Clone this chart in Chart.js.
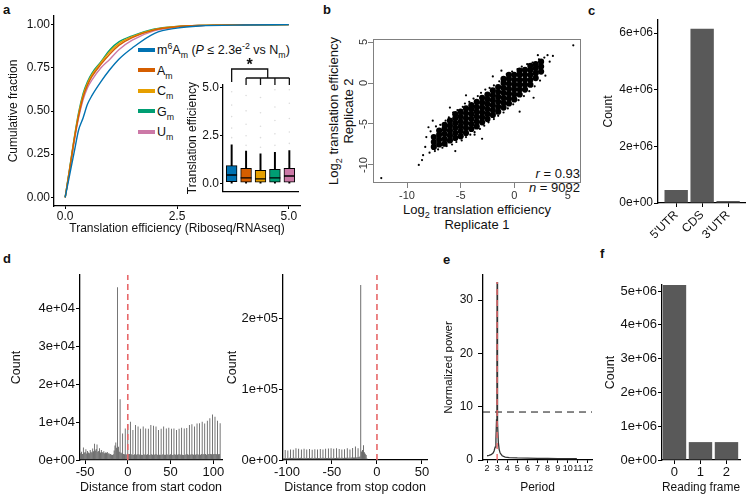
<!DOCTYPE html>
<html>
<head>
<meta charset="utf-8">
<script src="https://cdn.jsdelivr.net/npm/chart.js@4.4.1/dist/chart.umd.min.js"></script>
<style>
  body { margin: 0; background: #fff; }
  #fig { position: relative; width: 750px; height: 498px; overflow: hidden;
         font-family: "Liberation Sans", Arial, sans-serif; color: #111; }
  #fig canvas { position: absolute; }
  .lab { position: absolute; font-weight: bold; font-size: 13px; line-height: 1; }
  .lg { position: absolute; left: 138px; font-size: 12.5px; line-height: 14px; white-space: nowrap; }
  .lg .sw { display: inline-block; width: 17px; height: 4px; vertical-align: middle; margin-right: 2px; position: relative; top: -1px; }
  .t { position: absolute; font-size: 13px; white-space: nowrap; text-align: center; line-height: 15px; }
  sub, sup { font-size: 70%; line-height: 0; }
</style>
</head>
<body>
<div id="fig">
  <div class="lab" style="left:3px;top:3px">a</div>
  <div class="lab" style="left:323px;top:3px">b</div>
  <div class="lab" style="left:588px;top:4px">c</div>
  <div class="lab" style="left:3px;top:252px">d</div>
  <div class="lab" style="left:443px;top:253px">e</div>
  <div class="lab" style="left:600px;top:247px">f</div>

  <div class="lg" style="top:43px"><span class="sw" style="background:#0072B2"></span>m<sup>6</sup>A<sub>m</sub> (<i>P</i> ≤ 2.3e<sup>-2</sup> vs N<sub>m</sub>)</div>
  <div class="lg" style="top:63.5px"><span class="sw" style="background:#D55E00"></span>A<sub>m</sub></div>
  <div class="lg" style="top:84px"><span class="sw" style="background:#E69F00"></span>C<sub>m</sub></div>
  <div class="lg" style="top:104.5px"><span class="sw" style="background:#009E73"></span>G<sub>m</sub></div>
  <div class="lg" style="top:125px"><span class="sw" style="background:#CC79A7"></span>U<sub>m</sub></div>

  <div class="t" style="left:377px;top:202px;width:200px">Log<sub>2</sub> translation efficiency<br>Replicate 1</div>
  <div class="t" style="left:251px;top:96px;width:180px;transform:rotate(-90deg)">Log<sub>2</sub> translation efficiency<br>Replicate 2</div>

  <div class="t" style="left:490px;top:167px;width:90px;font-size:13px;text-align:right;line-height:14px"><i>r</i> = 0.93<br><i>n</i> = 9092</div>
</div>

<script>
// panel a: cumulative fraction of translation efficiency
const teGrid  = [0, 0.1, 0.2, 0.3, 0.4, 0.5, 0.6, 0.8, 1.0, 1.2, 1.5, 2.0, 2.5, 3.0, 4.0, 5.0];
const cdfM6Am = [0, 0.13, 0.26, 0.39, 0.46, 0.54, 0.59, 0.67, 0.74, 0.80, 0.865, 0.95, 0.98, 0.992, 0.998, 1];
const cdfAm   = [0, 0.16, 0.33, 0.47, 0.58, 0.65, 0.70, 0.77, 0.83, 0.88, 0.925, 0.97, 0.988, 0.995, 0.999, 1];
const cdfCm   = [0, 0.165, 0.335, 0.48, 0.59, 0.66, 0.71, 0.78, 0.845, 0.89, 0.93, 0.972, 0.989, 0.996, 0.999, 1];
const cdfGm   = [0, 0.17, 0.34, 0.49, 0.60, 0.67, 0.72, 0.785, 0.855, 0.90, 0.935, 0.975, 0.99, 0.996, 0.999, 1];
const cdfUm   = [0, 0.155, 0.32, 0.46, 0.565, 0.635, 0.68, 0.75, 0.80, 0.855, 0.91, 0.965, 0.986, 0.995, 0.999, 1];
const nucColors = ['#0072B2', '#D55E00', '#E69F00', '#009E73', '#CC79A7'];

// panel a inset: boxplots
const boxLow  = [0, 0, 0, 0, 0];
const boxQ1   = [0.1, 0.08, 0.08, 0.08, 0.08];
const boxMed  = [0.45, 0.3, 0.25, 0.3, 0.4];
const boxQ3   = [0.94, 0.8, 0.7, 0.75, 0.8];
const boxHigh = [2.03, 1.7, 1.55, 1.63, 1.73];
const boxOutliers = [[2.4, 2.9, 3.5, 4.1, 4.8], [2.0, 2.5, 3.1, 3.8, 4.6], [1.9, 2.4, 3.0, 3.7, 4.5],
                     [2.0, 2.6, 3.3, 4.0, 4.9], [2.1, 2.7, 3.4, 4.2, 4.9]];

// panel b: replicate scatter (dense core columns + scattered points)
const bCoreCols = [
  [-7.5, [-7.8, -7.2, -6.6]],
  [-7.0, [-7.5, -6.9, -6.3, -5.8]],
  [-6.5, [-7.4, -6.8, -6.2, -5.6, -5.1]],
  [-6.0, [-7.0, -6.4, -5.8, -5.2, -4.6]],
  [-5.5, [-6.7, -6.1, -5.5, -4.9, -4.3, -3.8]],
  [-5.0, [-6.5, -5.9, -5.3, -4.7, -4.1, -3.5]],
  [-4.5, [-6.1, -5.5, -4.9, -4.3, -3.7, -3.1]],
  [-4.0, [-5.6, -5.0, -4.4, -3.8, -3.2, -2.7]],
  [-3.5, [-5.3, -4.7, -4.1, -3.5, -2.9, -2.3]],
  [-3.0, [-4.8, -4.2, -3.6, -3.0, -2.4, -1.8]],
  [-2.5, [-4.4, -3.8, -3.2, -2.6, -2.0, -1.4]],
  [-2.0, [-3.9, -3.3, -2.7, -2.1, -1.5, -0.9]],
  [-1.5, [-3.5, -2.9, -2.3, -1.7, -1.1, -0.5]],
  [-1.0, [-3.0, -2.4, -1.8, -1.2, -0.6, 0.0, 0.5]],
  [-0.5, [-2.5, -1.9, -1.3, -0.7, -0.1, 0.5, 1.0]],
  [0.0,  [-2.0, -1.4, -0.8, -0.2, 0.4, 1.0]],
  [0.5,  [-1.4, -0.8, -0.2, 0.4, 1.0, 1.5]],
  [1.0,  [-0.8, -0.2, 0.4, 1.0, 1.6]],
  [1.5,  [-0.2, 0.4, 1.0, 1.6, 2.1]],
  [2.0,  [0.6, 1.2, 1.8, 2.3]],
  [2.5,  [1.4, 2.0, 2.6]]
];
const bSparse = [
  [-7.8, -5.9], [-7.3, -5.3], [-6.9, -5.1], [-6.4, -4.6], [-6.1, -4.2], [-5.7, -3.6], [-5.3, -3.3], [-4.8, -2.9],
  [-4.6, -2.5], [-4.2, -2.3], [-3.8, -1.9], [-3.4, -1.6], [-3.1, -1.2], [-2.7, -0.8], [-2.3, -0.6], [-1.9, -0.3],
  [-1.4, 0.2], [-1.1, 0.6], [-0.7, 1.1], [-0.2, 1.4], [0.3, 1.7], [0.7, 2.0], [1.2, 2.3], [1.7, 2.5],
  [2.3, 2.9], [2.8, 3.1], [3.1, 3.4],
  [-7.9, -8.5], [-7.4, -8.3], [-7.1, -8.1], [-6.7, -7.9], [-6.3, -7.7], [-5.8, -7.5], [-5.4, -7.2], [-4.9, -7.0],
  [-4.5, -6.6], [-4.1, -6.3], [-3.7, -6.0], [-3.2, -5.6], [-2.8, -5.2], [-2.4, -4.8], [-1.9, -4.4], [-1.5, -4.0],
  [-1.0, -3.6], [-0.6, -3.1], [-0.1, -2.6], [0.4, -2.1], [0.9, -1.6], [1.4, -1.0], [1.9, -0.4], [2.4, 0.3], [2.9, 0.9],
  [-12.4, -11.6], [-8.9, -10.0], [-8.6, -9.4], [-8.3, -7.8], [-8.0, -5.4], [-8.5, -8.8], [-8.2, -6.6], [-3.7, -6.3],
  [-6.0, -3.0], [-4.5, -1.5], [-2.0, 0.8], [0.5, -3.5], [1.8, -1.8], [-5.5, -8.3], [3.3, 2.6], [3.6, 3.3],
  [5.5, 4.6], [-1.2, 1.5], [2.2, 3.4], [-7.6, -4.6], [-3.0, -6.8]
];
const bTicks = [-10, -5, 0, 5];

// panel c: reads per region
const regionNames = ["5'UTR", 'CDS', "3'UTR"];
const regionCounts = [460000, 6150000, 70000];

// panel d: reads around start and stop codons (one value per nucleotide)
const startFirst = -55;
const startCounts = [
  1800, 2200, 1600, 3300, 1900, 2100, 2800, 1700, 2400, 2000,
  1800, 2600, 2200, 2000, 3000, 2300, 4300, 2500, 2900, 4100,
  2200, 2400, 3100, 2000, 2600, 2100, 1900, 2300, 1800, 2000,
  1900, 2100, 1700, 1800, 1500, 1600, 1400, 1300, 1500, 2500,
  3800, 4600, 3200, 45500, 3500, 2200, 16000, 2000, 1800, 7000, 1600, 1500, 8300, 1500, 1400,
  9400, 1500, 1600, 10100, 1500, 1400, 7900, 1300, 1500, 9200, 1400, 1500,
  8800, 1500, 1400, 8200, 1400, 1300, 8800, 1500, 1400, 8300, 1400, 1500,
  8200, 1300, 1400, 9200, 1500, 1400, 9000, 1400, 1500, 8800, 1500, 1300,
  7900, 1400, 1400, 8200, 1300, 1500, 8800, 1400, 1400, 8300, 1500, 1300,
  8500, 1400, 1500, 8200, 1300, 1400, 8300, 1500, 1400, 7900, 1400, 1500,
  8200, 1500, 1400, 8500, 1400, 1300, 8300, 1300, 1500, 8400, 1500, 1400,
  9200, 1400, 1500, 9400, 1500, 1400, 8800, 1400, 1500, 9600, 1500, 1400,
  9700, 1400, 1600, 10100, 1500, 1500, 9600, 1600, 1400, 10300, 1500, 1600,
  11000, 1600, 1500, 12000, 1500, 1600, 11400, 1600, 1500, 10300, 1500, 1600,
  9700
];
const stopFirst = -104;
const stopCounts = [
  2600, 3000,
  14000, 3000, 2800, 13500, 2700, 3100, 15000, 3000, 2900, 14500, 3100, 2800,
  16500, 2900, 3000, 15800, 3000, 3100, 15000, 2800, 3000, 16000, 3100, 2900,
  14800, 3000, 3000, 15500, 2900, 3100, 14500, 3000, 2800, 15200, 3100, 3000,
  14800, 2900, 3000, 15500, 3000, 3100, 14900, 3100, 2900, 15800, 3000, 3000,
  16200, 2900, 3100, 16500, 3100, 3000, 16000, 3000, 2900, 16800, 3100, 3200,
  15500, 3000, 3100, 14800, 3200, 3000, 15200, 3100, 3300, 16500, 3200, 3100,
  15000, 3300, 3400, 17000, 3400, 3500, 19000, 3600, 3800, 16500, 4200, 5000,
  248000, 12000, 14000, 21000, 11000, 9000,
  7000, 2000
];

// panel e: periodicity spectrum
const ePeriod = [2.0, 2.2, 2.4, 2.6, 2.7, 2.8, 2.88, 2.94, 2.98, 3.0, 3.02, 3.06, 3.12, 3.2, 3.3, 3.5, 3.8, 4.2, 5, 6, 7, 8, 9, 10, 10.9];
const ePower  = [0.8, 0.85, 1.0, 1.3, 1.7, 2.4, 3.8, 7.5, 20, 33.4, 21, 7, 3.3, 2.0, 1.3, 0.8, 0.55, 0.45, 0.38, 0.34, 0.3, 0.28, 0.26, 0.25, 0.24];
const ePeak = 3;
const eThreshold = 9;

// panel f: reads per reading frame
const frameNames = ['0', '1', '2'];
const frameCounts = [5180000, 530000, 530000];

Chart.defaults.font.family = '"Liberation Sans", Arial, sans-serif';
Chart.defaults.color = '#111';
Chart.defaults.animation = false;
Chart.defaults.events = [];
Chart.defaults.plugins.legend.display = false;
Chart.defaults.plugins.tooltip.enabled = false;

const fig = document.getElementById('fig');
const sci = v => v === 0 ? '0e+00' : v.toExponential(0).replace(/e([+-])(\d)$/, 'e$10$2');

// canvas box and plot area in page pixels
function panel(box, area, cfg) {
  const cv = document.createElement('canvas');
  cv.width = box.r - box.l;
  cv.height = box.b - box.t;
  cv.style.left = box.l + 'px';
  cv.style.top = box.t + 'px';
  fig.appendChild(cv);
  const o = cfg.options;
  o.responsive = false;
  o.layout = { padding: { left: 0, bottom: 0, top: area.t - box.t, right: box.r - area.r } };
  const xH = box.b - area.b, yW = area.l - box.l;
  o.scales.x.afterFit = s => { s.height = xH; s.paddingLeft = 0; s.paddingRight = 0; };
  o.scales.y.afterFit = s => { s.width = yW; s.paddingTop = 0; s.paddingBottom = 0; };
  return new Chart(cv, cfg);
}

function axis(min, max, ticks, fmt, opt = {}) {
  const lc = opt.lineColor || '#000';
  return {
    type: 'linear', min, max, offset: false,
    border: { display: opt.border !== false, color: lc, width: opt.bw || 1.3 },
    grid: { display: !opt.noTicks, drawOnChartArea: false, drawTicks: true, tickLength: opt.tl ?? 4,
            color: lc, lineWidth: 1, offset: false },
    ticks: { display: !opt.noLabels, autoSkip: false, font: { size: opt.fs || 12 }, color: opt.tc || '#111',
             padding: opt.pad ?? 1, maxRotation: opt.rot || 0, minRotation: opt.rot || 0, callback: fmt },
    afterBuildTicks: s => { s.ticks = ticks.map(v => ({ value: v })); },
    title: opt.title ? { display: true, text: opt.title, font: { size: opt.tfs || 12 }, color: '#111', padding: 0 }
                     : { display: false }
  };
}

// a
const cdfSeries = [cdfM6Am, cdfAm, cdfCm, cdfGm, cdfUm];
panel({ l: 6, t: 0, r: 305, b: 236 }, { l: 54, t: 16, r: 300, b: 206 }, {
  type: 'line',
  data: {
    datasets: cdfSeries.map((s, k) => ({
      data: teGrid.map((x, i) => ({ x, y: s[i] })),
      borderColor: nucColors[k], borderWidth: 1.4, pointRadius: 0,
      cubicInterpolationMode: 'monotone', order: k
    }))
  },
  options: {
    scales: {
      x: axis(-0.25, 5.25, [0, 2.5, 5], v => v.toFixed(1), { title: 'Translation efficiency (Riboseq/RNAseq)', tl: 3, pad: 0 }),
      y: axis(-0.05, 1.05, [0, 0.25, 0.5, 0.75, 1], v => v.toFixed(2), { title: 'Cumulative fraction', tl: 3, pad: 1 })
    }
  }
});

// a inset
const bracket = {
  id: 'bracket',
  afterDraw(ch) {
    const { ctx, chartArea: ca, scales: { x } } = ch;
    const px = v => x.getPixelForValue(v);
    const yTop = ca.top - 16, yMid = ca.top - 7;
    ctx.save();
    ctx.strokeStyle = '#111';
    ctx.lineWidth = 1.3;
    ctx.beginPath();
    ctx.moveTo(px(1), ca.top - 3); ctx.lineTo(px(1), yTop); ctx.lineTo(px(3.5), yTop); ctx.lineTo(px(3.5), yMid);
    ctx.moveTo(px(2), yMid); ctx.lineTo(px(5), yMid);
    [2, 3, 4, 5].forEach(k => { ctx.moveTo(px(k), yMid); ctx.lineTo(px(k), ca.top); });
    ctx.stroke();
    ctx.font = 'bold 16px "Liberation Sans"';
    ctx.textAlign = 'center';
    ctx.textBaseline = 'middle';
    ctx.fillStyle = '#111';
    ctx.fillText('*', px(2.25), yTop - 3);
    ctx.restore();
  }
};
panel({ l: 185, t: 50, r: 305, b: 198 }, { l: 223, t: 85, r: 298, b: 195 }, {
  type: 'bar',
  data: {
    datasets: [
      { type: 'line', showLine: false, data: boxMed.map((v, i) => ({ x: i + 1, y: v })),
        pointStyle: 'line', pointRadius: 5.4, borderColor: '#000', pointBorderWidth: 1.3, order: 0 },
      { data: boxQ1.map((v, i) => ({ x: i + 1, y: [v, boxQ3[i]] })), backgroundColor: nucColors,
        borderColor: '#000', borderWidth: 1, borderSkipped: false, barThickness: 10.8, grouped: false, order: 1 },
      { data: boxLow.map((v, i) => ({ x: i + 1, y: [v, boxHigh[i]] })), backgroundColor: '#000',
        barThickness: 1.3, grouped: false, order: 2 },
      { type: 'line', showLine: false, data: boxOutliers.flatMap((arr, i) => arr.map(v => ({ x: i + 1, y: v }))),
        pointRadius: 0.8, pointBackgroundColor: '#dcdcdc', pointBorderWidth: 0, order: 3 }
    ]
  },
  options: {
    scales: {
      x: axis(0.4, 5.6, [], null, { noTicks: true, noLabels: true }),
      y: axis(-0.4, 5.15, [0, 2.5, 5], v => v.toFixed(1), { title: 'Translation efficiency', tl: 3, pad: 1 })
    }
  },
  plugins: [bracket]
});

// b
const bFrame = {
  id: 'bFrame',
  afterDraw(ch) {
    const { ctx, chartArea: ca, scales: { y } } = ch;
    ctx.save();
    ctx.strokeStyle = '#808080';
    ctx.lineWidth = 1;
    ctx.strokeRect(ca.left + 0.5, ca.top + 0.5, ca.right - ca.left - 1, ca.bottom - ca.top - 1);
    ctx.fillStyle = '#333';
    ctx.font = '11px "Liberation Sans"';
    ctx.textAlign = 'center';
    ctx.textBaseline = 'middle';
    bTicks.forEach(v => {
      ctx.save();
      ctx.translate(ca.left - 9, y.getPixelForValue(v));
      ctx.rotate(-Math.PI / 2);
      ctx.fillText(String(v), 0, 0);
      ctx.restore();
    });
    ctx.restore();
  }
};
const bCore = bCoreCols.flatMap(([x, ys]) => ys.map(y => ({ x, y })));
panel({ l: 345, t: 25, r: 600, b: 205 }, { l: 373, t: 39, r: 581, b: 183 }, {
  type: 'scatter',
  data: {
    datasets: [
      { data: bCore, pointRadius: 3.1, pointBackgroundColor: '#000', pointBorderWidth: 0 },
      { data: bSparse.map(p => ({ x: p[0], y: p[1] })), pointRadius: 1.1, pointBackgroundColor: '#000', pointBorderWidth: 0 }
    ]
  },
  options: {
    scales: {
      x: axis(-13.17, 6.22, bTicks, v => String(v), { border: false, lineColor: '#808080', tl: 5, pad: 1, fs: 11, tc: '#333' }),
      y: axis(-12.2, 5.37, bTicks, () => '', { border: false, lineColor: '#808080', tl: 5, pad: 1, fs: 11 })
    }
  },
  plugins: [bFrame]
});

// c
panel({ l: 601, t: 5, r: 750, b: 250 }, { l: 658, t: 20, r: 745, b: 203 }, {
  type: 'bar',
  data: {
    datasets: [{ data: regionCounts.map((v, i) => ({ x: i + 1, y: v })), backgroundColor: '#595959',
                 barPercentage: 0.9, categoryPercentage: 1 }]
  },
  options: {
    scales: {
      x: axis(0.3, 3.65, [1, 2, 3], (v, i) => regionNames[i], { rot: 45, tl: 4, pad: 1 }),
      y: axis(0, 6.46e6, [0, 2e6, 4e6, 6e6], sci, { title: 'Count', tl: 4, pad: 1 })
    }
  }
});

// d start
panel({ l: 9, t: 265, r: 235, b: 495 }, { l: 80, t: 275, r: 222, b: 460 }, {
  type: 'bar',
  data: {
    datasets: [
      { type: 'line', data: [{ x: 0, y: 0 }, { x: 0, y: 4.87e4 }], borderColor: '#e8686a', borderWidth: 1.6,
        borderDash: [6, 4], pointRadius: 0, order: 0 },
      { data: startCounts.map((v, i) => ({ x: startFirst + i, y: v })), backgroundColor: '#4d4d4d',
        barPercentage: 0.9, categoryPercentage: 1, order: 1 }
    ]
  },
  options: {
    scales: {
      x: axis(-55.9, 110.2, [-50, 0, 50, 100], v => String(v), { title: 'Distance from start codon', fs: 13, tfs: 12.5, tl: 4, pad: 1 }),
      y: axis(0, 4.87e4, [0, 1e4, 2e4, 3e4, 4e4], sci, { title: 'Count', fs: 13, tfs: 12.5, tl: 4, pad: 1 })
    }
  }
});

// d stop
panel({ l: 225, t: 265, r: 440, b: 495 }, { l: 283, t: 275, r: 427, b: 460 }, {
  type: 'bar',
  data: {
    datasets: [
      { type: 'line', data: [{ x: 0, y: 0 }, { x: 0, y: 2.62e5 }], borderColor: '#e8686a', borderWidth: 1.6,
        borderDash: [6, 4], pointRadius: 0, order: 0 },
      { data: stopCounts.map((v, i) => ({ x: stopFirst + i, y: v })), backgroundColor: '#4d4d4d',
        barPercentage: 0.9, categoryPercentage: 1, order: 1 }
    ]
  },
  options: {
    scales: {
      x: axis(-104.4, 55.6, [-100, -50, 0, 50], v => String(v), { title: 'Distance from stop codon', fs: 13, tfs: 12.5, tl: 4, pad: 1 }),
      y: axis(0, 2.62e5, [0, 1e5, 2e5], sci, { title: 'Count', fs: 13, tfs: 12.5, tl: 4, pad: 1 })
    }
  }
});

// e
panel({ l: 442, t: 265, r: 602, b: 495 }, { l: 483, t: 275, r: 592, b: 460 }, {
  type: 'line',
  data: {
    datasets: [
      { data: [{ x: ePeak, y: 0 }, { x: ePeak, y: 33.4 }], borderColor: '#e8686a', borderWidth: 1.4,
        borderDash: [6, 5], pointRadius: 0, order: 0 },
      { data: [{ x: 1.6, y: eThreshold }, { x: 12.4, y: eThreshold }], borderColor: '#111', borderWidth: 1,
        borderDash: [7, 5], pointRadius: 0, order: 1 },
      { data: ePeriod.map((x, i) => ({ x, y: ePower[i] })), borderColor: '#333', borderWidth: 1.3,
        pointRadius: 0, tension: 0, order: 2 }
    ]
  },
  options: {
    scales: {
      x: axis(1.6, 12.4, [2, 3, 4, 5, 6, 7, 8, 9, 10, 11, 12], v => String(v), { title: 'Period', fs: 9, tfs: 12, tl: 3, pad: 0 }),
      y: axis(0, 34.7, [0, 10, 20, 30], v => String(v), { title: 'Normalized power', fs: 12, tfs: 11.5, tl: 5, pad: 5 })
    }
  }
});

// f
panel({ l: 603, t: 270, r: 750, b: 495 }, { l: 662, t: 285, r: 740, b: 460 }, {
  type: 'bar',
  data: {
    datasets: [{ data: frameCounts.map((v, i) => ({ x: i + 1, y: v })), backgroundColor: '#595959',
                 barPercentage: 0.9, categoryPercentage: 1 }]
  },
  options: {
    scales: {
      x: axis(0.52, 3.52, [1, 2, 3], (v, i) => frameNames[i], { title: 'Reading frame', fs: 13, tfs: 12.5, tl: 4, pad: 1 }),
      y: axis(0, 5.18e6, [0, 1e6, 2e6, 3e6, 4e6, 5e6], sci, { title: 'Count', fs: 13, tfs: 12.5, tl: 4, pad: 1 })
    }
  }
});
</script>
</body>
</html>
